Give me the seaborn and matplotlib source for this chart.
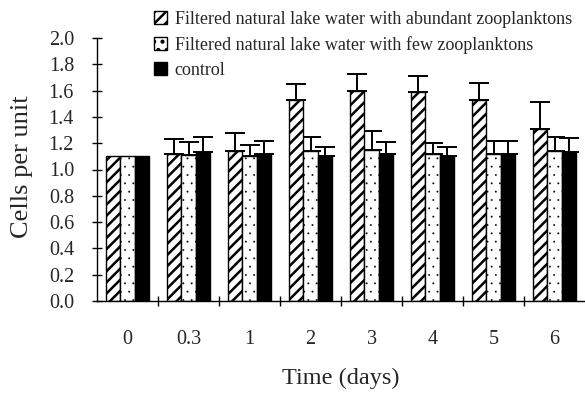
import matplotlib
matplotlib.use("Agg")
import matplotlib.pyplot as plt
import seaborn as sns
import pandas as pd
import numpy as np

times = ['0', '0.3', '1', '2', '3', '4', '5', '6']
series = ['Filtered natural lake water with abundant zooplanktons',
          'Filtered natural lake water with few zooplanktons',
          'control']
abundant = [1.10, 1.12, 1.14, 1.53, 1.60, 1.59, 1.53, 1.31]
abundant_err = [0.0, 0.11, 0.14, 0.12, 0.13, 0.12, 0.13, 0.20]
few = [1.10, 1.11, 1.10, 1.14, 1.15, 1.12, 1.12, 1.14]
few_err = [0.0, 0.10, 0.09, 0.11, 0.14, 0.08, 0.10, 0.11]
control = [1.10, 1.13, 1.12, 1.10, 1.12, 1.10, 1.12, 1.13]
control_err = [0.0, 0.12, 0.10, 0.07, 0.09, 0.07, 0.10, 0.11]

values = [abundant, few, control]
errors = [abundant_err, few_err, control_err]

rows = []
for s, vals in zip(series, values):
    for t, v in zip(times, vals):
        rows.append({'time': t, 'series': s, 'value': v})
df = pd.DataFrame(rows)

sns.set_style('ticks')
plt.rcParams['font.family'] = ['Liberation Serif', 'DejaVu Serif']
plt.rcParams['hatch.color'] = 'black'
plt.rcParams['hatch.linewidth'] = 1.8

fig = plt.figure(figsize=(5.85, 3.96), dpi=100)
ax = fig.add_axes([97 / 585, 1 - 301 / 396, 488 / 585, 263 / 396])

sns.barplot(data=df, x='time', y='value', hue='series', order=times,
            hue_order=series, palette=['white', 'white', 'black'],
            edgecolor='black', linewidth=1.0, width=0.71, ax=ax,
            errorbar=None, legend=False, saturation=1)

bar_containers = list(ax.containers)
hatches = ['///', '..', '']
hatch_lw = [1.8, 0.15, 1.0]
for cont, h, hlw, err in zip(bar_containers, hatches, hatch_lw, errors):
    xs = []
    ys = []
    for p in cont.patches:
        p.set_hatch(h)
        if hasattr(p, 'set_hatch_linewidth'):
            p.set_hatch_linewidth(hlw)
        else:
            p._hatch_linewidth = hlw
        p.set_zorder(2)
        xs.append(p.get_x() + p.get_width() / 2)
        ys.append(p.get_height())
    xs = np.array(xs)
    ys = np.array(ys)
    err = np.array(err)
    mask = err > 0
    ax.errorbar(xs[mask], ys[mask], yerr=[np.zeros(mask.sum()), err[mask]],
                fmt='none', ecolor='black', elinewidth=1.4, capsize=7,
                capthick=1.4, zorder=1)

ax.set_ylim(0, 2.0)
ax.set_xlim(-0.5, len(times) - 0.5)
ax.set_yticks(np.arange(0, 2.01, 0.2))
ax.set_yticklabels([f'{v:.1f}' for v in np.arange(0, 2.01, 0.2)], fontsize=14.5)

ax.set_xticks(np.arange(0.5, len(times) - 0.5, 1.0))
ax.set_xticklabels([])
ax.set_xticks(np.arange(len(times)), minor=True)
ax.set_xticklabels(times, minor=True, fontsize=14.5)
ax.tick_params(axis='x', which='major', direction='inout', length=7, width=1.0,
               color='black', bottom=True)
ax.tick_params(axis='x', which='minor', length=0, pad=21, bottom=True)
ax.tick_params(axis='y', direction='inout', length=7, width=1.0, color='black',
               pad=13, left=True)

for side in ['top', 'right']:
    ax.spines[side].set_visible(False)
for side in ['left', 'bottom']:
    ax.spines[side].set_color('black')
    ax.spines[side].set_linewidth(1.0)

ax.set_xlabel('Time (days)', fontsize=17.5)
ax.xaxis.set_label_coords(0.5, -0.255)
ax.xaxis.label.set_va('top')
ax.set_ylabel('Cells per unit', fontsize=19)
ax.yaxis.set_label_coords(-0.131, 0.51)

leg = ax.legend(handles=bar_containers, labels=series, loc='upper left',
                bbox_to_anchor=(143 / 585, 1.0), bbox_transform=fig.transFigure,
                frameon=False, fontsize=13, handlelength=0.75, handleheight=0.75,
                handletextpad=0.4, labelspacing=0.45, borderaxespad=0.2)

fig.savefig('out.png', dpi=100, facecolor='white')
